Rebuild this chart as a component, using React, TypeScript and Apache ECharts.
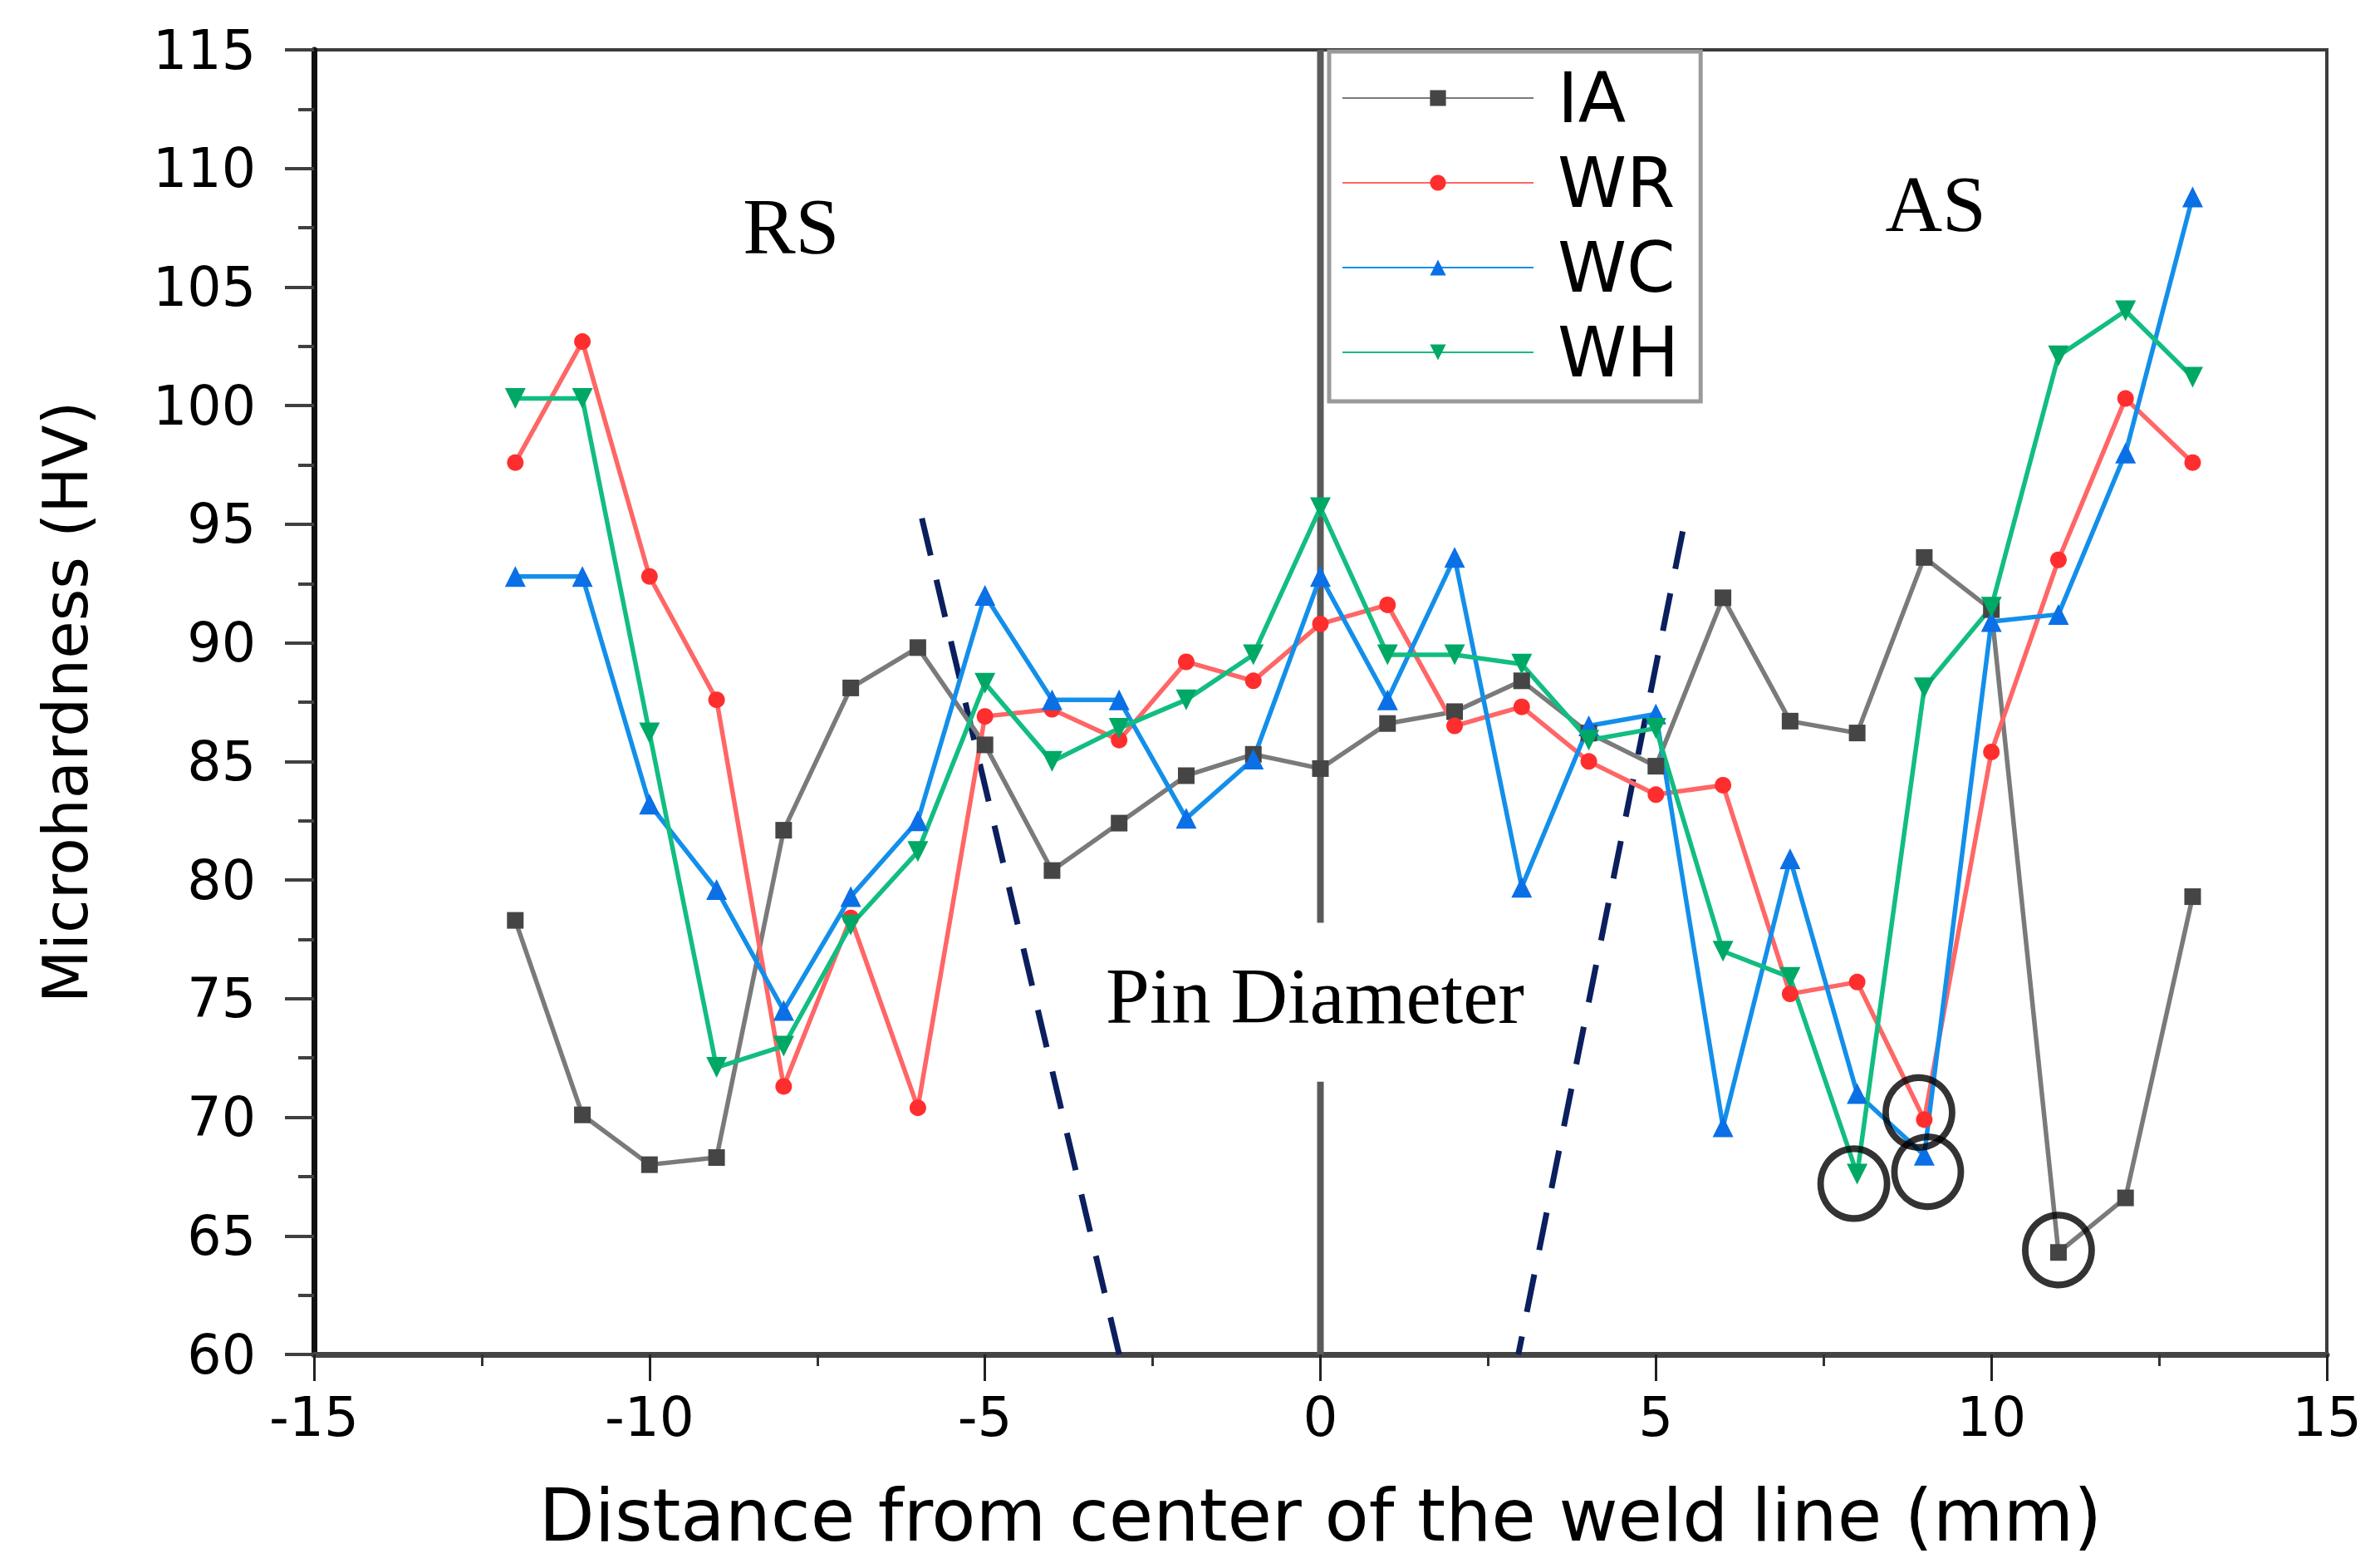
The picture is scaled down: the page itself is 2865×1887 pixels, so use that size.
import React, { useEffect, useRef } from "react";
import * as echarts from "echarts";

// ---- data ----
const distances = [-12, -11, -10, -9, -8, -7, -6, -5, -4, -3, -2, -1, 0, 1, 2, 3, 4, 5, 6, 7, 8, 9, 10, 11, 12, 13];
const iaValues = [78.3, 70.1, 68.0, 68.3, 82.1, 88.1, 89.8, 85.7, 80.4, 82.4, 84.4, 85.3, 84.7, 86.6, 87.1, 88.4, 86.2, 84.8, 91.9, 86.7, 86.2, 93.6, 91.4, 64.3, 66.6, 79.3];
const wrValues = [97.6, 102.7, 92.8, 87.6, 71.3, 78.4, 70.4, 86.9, 87.2, 85.9, 89.2, 88.4, 90.8, 91.6, 86.5, 87.3, 85.0, 83.6, 84.0, 75.2, 75.7, 69.9, 85.4, 93.5, 100.3, 97.6];
const wcValues = [92.8, 92.8, 83.2, 79.6, 74.5, 79.3, 82.5, 92.0, 87.6, 87.6, 82.6, 85.1, 92.8, 87.6, 93.6, 79.7, 86.5, 87.0, 69.6, 80.9, 71.0, 68.4, 90.9, 91.2, 98.0, 108.8];
const whValues = [100.3, 100.3, 86.2, 72.1, 73.0, 78.1, 81.2, 88.3, 85.0, 86.4, 87.6, 89.5, 95.7, 89.5, 89.5, 89.1, 85.9, 86.4, 77.0, 75.9, 67.6, 88.1, 91.5, 102.1, 104.0, 101.2];

const seriesNames = ["IA", "WR", "WC", "WH"];

// pin diameter boundaries (dashed)
const leftBoundaryX = [-5.94, -3.0];
const leftBoundaryY = [95.25, 60];
const rightBoundaryX = [5.4, 2.95];
const rightBoundaryY = [94.7, 60];

// weld centre line (with a gap for the label)
const centerUpperY = [115, 78.2];
const centerLowerY = [71.5, 60];

// circled minimum points
const circleX = [7.95, 8.92, 9.05, 11.0];
const circleY = [67.2, 70.2, 67.7, 64.4];

// text annotations
const annotationTexts = ["RS", "AS", "Pin Diameter"];
const annotationX = [-7.89, 9.17, -0.08];
const annotationY = [107.55, 108.5, 75.1];

const xTicks = { min: -15, max: 15, interval: 5 };
const yTicks = { min: 60, max: 115, interval: 5 };

const zip = (xs: number[], ys: number[]) => xs.map((x, i) => [x, ys[i]]);

export default function App() {
  const ref = useRef<HTMLDivElement>(null);

  useEffect(() => {
    if (!ref.current) return;
    const chart = echarts.init(ref.current, null, { renderer: "svg" });
    const sans = "DejaVu Sans";

    const mk = (
      name: string,
      values: number[],
      lineColor: string,
      markColor: string,
      symbol: string,
      rotate: number,
      size: number
    ) => ({
      name,
      type: "line",
      data: zip(distances, values),
      symbol,
      symbolRotate: rotate,
      symbolSize: size,
      showSymbol: true,
      lineStyle: { color: lineColor, width: 5.5 },
      itemStyle: { color: markColor },
      z: 5,
    });

    const option: any = {
      animation: false,
      backgroundColor: "#ffffff",
      grid: {
        left: 378,
        right: 64,
        top: 60,
        bottom: 257,
        show: true,
        borderColor: "#3c3c3c",
        borderWidth: 4,
        backgroundColor: "transparent",
      },
      xAxis: {
        type: "value",
        min: xTicks.min,
        max: xTicks.max,
        interval: xTicks.interval,
        name: "Distance from center of the weld line (mm)",
        nameLocation: "middle",
        nameGap: 150,
        nameTextStyle: { fontFamily: sans, fontSize: 87, color: "#000" },
        axisLine: { show: true, onZero: false, lineStyle: { color: "#444", width: 7 } },
        axisTick: { show: true, inside: false, length: 32, lineStyle: { color: "#222", width: 3 } },
        minorTick: { show: true, splitNumber: 2, length: 14, lineStyle: { color: "#333", width: 3 } },
        splitLine: { show: false },
        axisLabel: { fontFamily: sans, fontSize: 66, color: "#000", margin: 42 },
      },
      yAxis: {
        type: "value",
        min: yTicks.min,
        max: yTicks.max,
        interval: yTicks.interval,
        name: "Microhardness (HV)",
        nameLocation: "middle",
        nameRotate: 90,
        nameGap: 262,
        nameTextStyle: { fontFamily: sans, fontSize: 74, color: "#000" },
        axisLine: { show: true, onZero: false, lineStyle: { color: "#111", width: 7 } },
        axisTick: { show: true, inside: false, length: 35, lineStyle: { color: "#404040", width: 4 } },
        minorTick: { show: true, splitNumber: 2, length: 19, lineStyle: { color: "#404040", width: 4 } },
        splitLine: { show: false },
        axisLabel: { fontFamily: sans, fontSize: 65, color: "#000", margin: 70 },
      },
      legend: {
        data: seriesNames,
        orient: "vertical",
        left: 1600,
        top: 62,
        backgroundColor: "#ffffff",
        borderColor: "#9a9a9a",
        borderWidth: 5,
        borderRadius: 0,
        padding: [14, 26, 17, 15],
        itemWidth: 230,
        itemHeight: 24,
        itemGap: 18,
        textStyle: { fontFamily: sans, fontSize: 84, lineHeight: 82, color: "#000", padding: [0, 0, 0, 24] },
        z: 20,
      },
      series: [
        {
          name: "centerUpper",
          type: "line",
          data: zip([0, 0], centerUpperY),
          symbol: "none",
          silent: true,
          lineStyle: { color: "#5a5a5a", width: 8 },
          z: 2,
        },
        {
          name: "centerLower",
          type: "line",
          data: zip([0, 0], centerLowerY),
          symbol: "none",
          silent: true,
          lineStyle: { color: "#5a5a5a", width: 8 },
          z: 2,
        },
        {
          name: "leftBoundary",
          type: "line",
          data: zip(leftBoundaryX, leftBoundaryY),
          symbol: "none",
          silent: true,
          lineStyle: { color: "#0b1f5e", width: 7, type: [46, 30] },
          z: 3,
        },
        {
          name: "rightBoundary",
          type: "line",
          data: zip(rightBoundaryX, rightBoundaryY),
          symbol: "none",
          silent: true,
          lineStyle: { color: "#0b1f5e", width: 7, type: [46, 30] },
          z: 3,
        },
        mk("IA", iaValues, "#7a7a7a", "#454545", "rect", 0, 20),
        mk("WR", wrValues, "#ff6666", "#ff2e2e", "circle", 0, 20),
        mk("WC", wcValues, "#138fea", "#0b6fe6", "triangle", 0, 25),
        mk("WH", whValues, "#12bd80", "#00a866", "triangle", 180, 25),
        {
          name: "circled",
          type: "scatter",
          data: zip(circleX, circleY),
          symbol: "circle",
          symbolSize: [80, 84],
          silent: true,
          itemStyle: { color: "rgba(0,0,0,0)", borderColor: "#000", borderWidth: 8 },
          z: 8,
        },
      ],
    };

    chart.setOption(option);

    const graphics = annotationTexts.map((t, i) => {
      const p = chart.convertToPixel({ gridIndex: 0 }, [annotationX[i], annotationY[i]]) as number[];
      return {
        type: "text",
        x: p[0],
        y: p[1],
        z: 15,
        style: {
          text: t,
          fontFamily: "Liberation Serif",
          fontSize: 95,
          fill: "#000",
          align: "center",
          verticalAlign: "middle",
        },
      };
    });
    chart.setOption({ graphic: graphics });

    return () => chart.dispose();
  }, []);

  return (
    <div
      ref={ref}
      style={{ position: "fixed", left: 0, top: 0, width: 2865, height: 1887, background: "#fff" }}
    />
  );
}
